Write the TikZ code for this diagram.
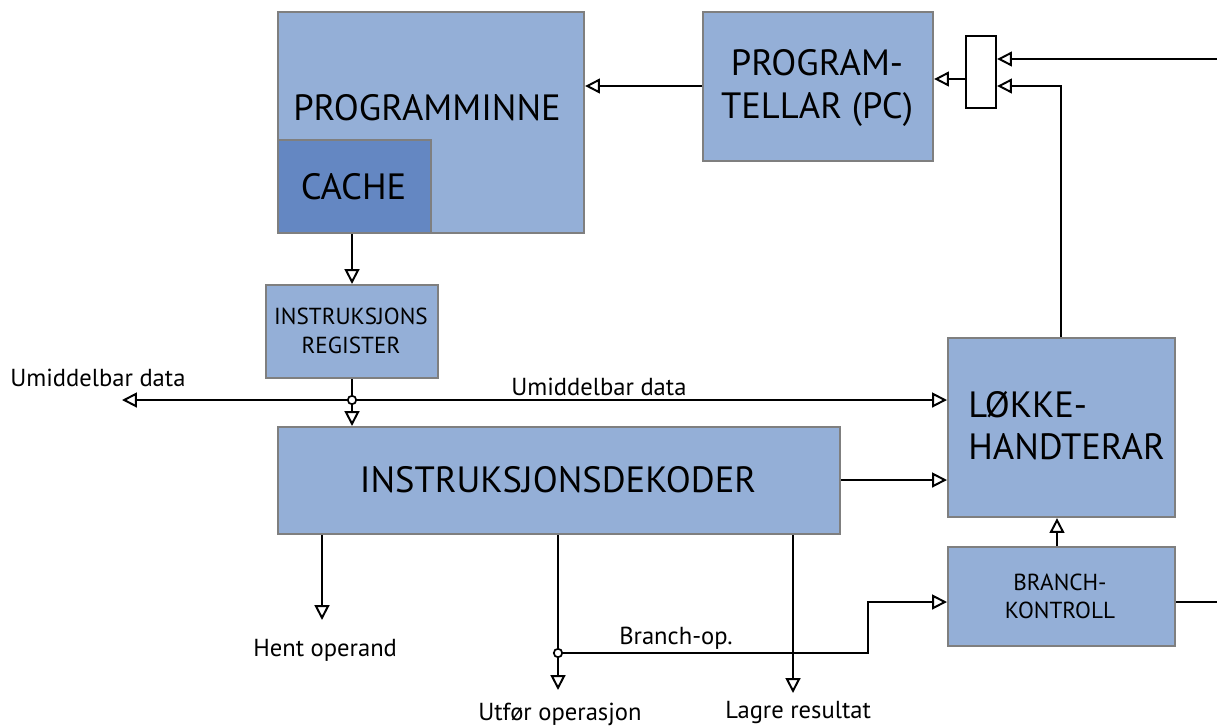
\documentclass[tikz,border=0pt]{standalone}
\usepackage{fontspec}
\setmainfont{PT Sans}
\usetikzlibrary{arrows.meta}
\definecolor{boxfill}{HTML}{94AFD7}
\definecolor{cachefill}{HTML}{6487C2}
\definecolor{boxline}{HTML}{7F7F7F}
\tikzset{
  blk/.style={draw=boxline, line width=1.5pt, fill=boxfill, inner sep=0pt,
    anchor=north west},
  bigtxt/.style={font=\fontsize{26}{31}\selectfont, align=center, inner sep=0pt},
  smalltxt/.style={font=\fontsize{16.5}{21}\selectfont, align=center, inner sep=0pt},
  lbl/.style={font=\fontsize{17.5}{20}\selectfont, inner sep=0pt, anchor=base west},
  wire/.style={line width=1.6pt, -{Triangle[open, length=10.5pt, width=10.5pt, line width=1.4pt]}},
  plain/.style={line width=1.6pt},
  joint/.style={circle, draw, fill=white, line width=1.2pt, inner sep=0pt, minimum size=6pt},
}
\begin{document}
\begin{tikzpicture}[x=0.025cm, y=-0.025cm]
\useasboundingbox (0,0) rectangle (1217,726);

% blocks
\node[blk, minimum width=306*0.025cm, minimum height=221*0.025cm] (mem) at (277,11) {};
\node[blk, fill=cachefill, minimum width=153*0.025cm, minimum height=93*0.025cm] (cache) at (277,139) {};
\node[bigtxt] (memtxt) at (427,108) {PROGRAMMINNE};
\node[bigtxt] (cachetxt) at (353.5,187) {CACHE};

\node[blk, minimum width=230*0.025cm, minimum height=149*0.025cm] (pc) at (702,11) {};
\node[bigtxt] (pctxt) at (817,88) {PROGRAM-\\TELLAR (PC)};

\node[draw=black, fill=white, line width=1.6pt, inner sep=0pt,
  minimum width=30*0.025cm, minimum height=72*0.025cm] (mux) at (981,72) {};

\node[blk, minimum width=172*0.025cm, minimum height=93*0.025cm] (ir) at (265,284) {};
\node[smalltxt] (irtxt) at (351,331) {INSTRUKSJONS\\REGISTER};

\node[blk, minimum width=562*0.025cm, minimum height=107*0.025cm] (dec) at (277,426) {};
\node[bigtxt] (dectxt) at (558,480) {INSTRUKSJONSDEKODER};

\node[blk, minimum width=227*0.025cm, minimum height=179*0.025cm] (loop) at (947,337) {};
\node[bigtxt, align=left, anchor=west, font=\fontsize{26}{30}\selectfont] (looptxt) at (968,426) {LØKKE-\\HANDTERAR};

\node[blk, minimum width=227*0.025cm, minimum height=99*0.025cm] (br) at (947,546) {};
\node[smalltxt, font=\fontsize{16.5}{20}\selectfont] (brtxt) at (1060,596) {BRANCH-\\KONTROLL};

% junctions and free ends
\coordinate (inR) at (1217,59);
\coordinate (outR) at (1217,602);
\coordinate (immL) at (122,400);
\coordinate (opnd) at (322,620);
\coordinate (exec) at (558,690);
\coordinate (store) at (793,693);

% connectors
\draw[wire] (pc.west |- 0,86) -- (mem.east |- 0,86);
\draw[wire] (mux.west |- 0,79) -- (pc.east |- 0,79);
\draw[wire] (inR) -- (mux.east |- inR);
\draw[wire] (loop.north -| 1061,0) -- (1061,86) -- (mux.east |- 0,86);
\draw[wire] (cache.south -| 352,0) -- (ir.north -| 352,0);
\draw[wire] (ir.south -| 352,0) -- (dec.north -| 352,0);
\draw[wire] (352,400) -- (immL);
\draw[wire] (352,400) -- (loop.west |- 0,400);
\node[joint] (j1) at (352,400) {};
\draw[wire] (dec.east |- 0,480) -- (loop.west |- 0,480);
\draw[wire] (dec.south -| opnd) -- (opnd);
\draw[wire] (dec.south -| exec) -- (exec);
\draw[wire] (dec.south -| store) -- (store);
\draw[wire] (558,653) -- (868,653) -- (868,602) -- (br.west |- 0,602);
\node[joint] (j2) at (558,653) {};
\draw[wire] (br.north -| 1057,0) -- (loop.south -| 1057,0);
\draw[plain] (br.east |- outR) -- (outR);

% labels
\node[lbl] (l1) at (10,386) {Umiddelbar data};
\node[lbl] (l2) at (511,395) {Umiddelbar data};
\node[lbl] (l3) at (619,644) {Branch-op.};
\node[lbl] (l4) at (253,656) {Hent operand};
\node[lbl] (l5) at (478,720) {Utfør operasjon};
\node[lbl] (l6) at (725,718) {Lagre resultat};
\end{tikzpicture}
\end{document}
